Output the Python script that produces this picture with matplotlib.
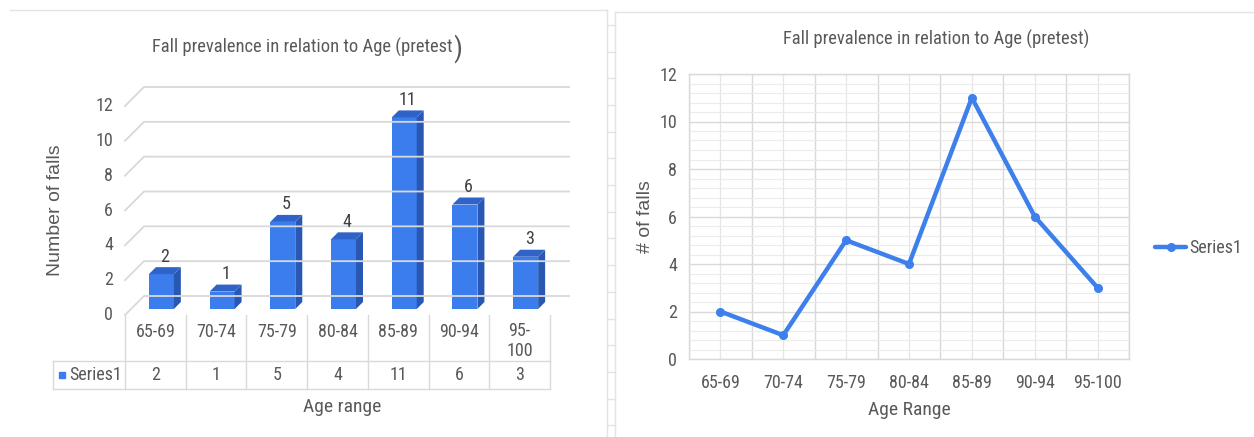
import numpy as np
import matplotlib.pyplot as plt
from matplotlib.patches import Polygon, Rectangle
from matplotlib.lines import Line2D
from matplotlib.ticker import MultipleLocator

# data
ages = ["65-69", "70-74", "75-79", "80-84", "85-89", "90-94", "95-100"]
table_ages = ["65-69", "70-74", "75-79", "80-84", "85-89", "90-94", "95-\n100"]
falls = [2, 1, 5, 4, 11, 6, 3]
series_name = "Series1"
yticks = [0, 2, 4, 6, 8, 10, 12]

W, H = 1254, 437
fig = plt.figure(figsize=(W / 100, H / 100), dpi=100)

NARROW = ["Roboto Condensed", "Liberation Sans"]
REG = ["Liberation Sans", "DejaVu Sans"]
TXT = "#595959"
GRID = "#d9d9d9"
BLUE = "#3b7ded"
SIDE = "#2858b4"
TOP = "#3063c8"


def fx(px):
    return px / W


def fy(py):
    return 1 - py / H


# panel frames and the spreadsheet strip between them
fig.add_artist(Line2D([fx(10), fx(607)], [fy(10), fy(10)], color="#e3e3e3", lw=1))
fig.add_artist(Line2D([fx(607), fx(607)], [fy(10), fy(437)], color="#e3e3e3", lw=1))
fig.add_artist(Line2D([fx(615), fx(1254)], [fy(12), fy(12)], color="#e3e3e3", lw=1))
fig.add_artist(Line2D([fx(615), fx(615)], [fy(12), fy(437)], color="#e3e3e3", lw=1))
for yy in np.arange(24.9, 437, 26.7):
    fig.add_artist(Line2D([fx(607), fx(615)], [fy(yy), fy(yy)], color="#e3e3e3", lw=1))

# ---------------- left: 3D-style column chart with data table ----------------
axL = fig.add_axes([fx(125), fy(315), (550 - 125) / W, (315 - 106) / H])
axL.set_xlim(0, 7)
axL.set_ylim(0, 12)
axL.axis("off")

ux = 425 / 7      # px per category
uy = 209 / 12     # px per unit
bdx, bdy = 19 / ux, 19 / uy   # back wall offset
fox, foy = 6 / ux, 6 / uy     # bar front offset
dpx, dpy = 7 / ux, 7 / uy     # bar depth
bw = 25 / ux

# back wall gridlines with left diagonal
for v in yticks:
    axL.plot([0, bdx, 7 + bdx], [v, v + bdy, v + bdy], color=GRID, lw=1.3,
             clip_on=False, solid_joinstyle="miter")

for i, v in enumerate(falls):
    x0 = i + 0.5 - bw / 2 + fox
    x1 = x0 + bw
    y0 = foy
    y1 = v + foy
    axL.add_patch(Rectangle((x0, y0), bw, v, facecolor=BLUE, edgecolor="none", clip_on=False))
    axL.add_patch(Polygon([(x1, y0), (x1 + dpx, y0 + dpy), (x1 + dpx, y1 + dpy), (x1, y1)],
                          closed=True, facecolor=SIDE, edgecolor="none", clip_on=False))
    axL.add_patch(Polygon([(x0, y1), (x1, y1), (x1 + dpx, y1 + dpy), (x0 + dpx, y1 + dpy)],
                          closed=True, facecolor=TOP, edgecolor="none", clip_on=False))
    axL.text(i + 0.5 + fox + dpx / 2, y1 + dpy + 5.5 / uy, str(v), ha="center", va="baseline",
             fontsize=13, family=NARROW, color="#404040")

# y tick labels on the front edge
for v in yticks:
    axL.text(-12 / ux, v, str(v), ha="right", va="center", fontsize=13, family=NARROW, color=TXT)

# data table below the floor
r1 = (315 - 361) / uy
r2 = (315 - 389) / uy
lx = (53 - 125) / ux
tcol = "#d9d9d9"
for k in range(8):
    axL.plot([k, k], [0, r2], color=tcol, lw=1, clip_on=False)
axL.plot([lx, 7], [r1, r1], color=tcol, lw=1, clip_on=False)
axL.plot([lx, 7], [r2, r2], color=tcol, lw=1, clip_on=False)
axL.plot([lx, lx], [r1, r2], color=tcol, lw=1, clip_on=False)

for i, lab in enumerate(table_ages):
    ycen = -0.976 if "\n" not in lab else -1.49
    axL.text(i + 0.5, ycen, lab, ha="center", va="center", fontsize=13, family=NARROW,
             color=TXT, linespacing=1.2)
    axL.text(i + 0.5, (r1 + r2) / 2, str(falls[i]), ha="center", va="center", fontsize=13,
             family=NARROW, color=TXT)

axL.plot([(62 - 125) / ux], [(r1 + r2) / 2], marker="s", ms=4.5, color=BLUE,
         linestyle="none", clip_on=False)
axL.text((69 - 125) / ux, (r1 + r2) / 2, series_name, ha="left", va="center", fontsize=13,
         family=NARROW, color=TXT)

tmain = fig.text(fx(152), fy(52.7), "Fall prevalence in relation to Age (pretest", ha="left",
                 va="baseline", fontsize=13.3, family=NARROW, color=TXT)
fig.text(fx(55), fy(210), "Number of falls", rotation=90, ha="center", va="center",
         fontsize=14, family=REG, color=TXT)
fig.text(fx(342), fy(407), "Age range", ha="center", va="center", fontsize=14,
         family=NARROW, color=TXT)

# ---------------- right: line chart ----------------
axR = fig.add_axes([fx(689), fy(359), (1129 - 689) / W, (359 - 74) / H])
x = np.arange(len(ages))
axR.plot(x, falls, color="#3d80ec", lw=3.2, marker="o", ms=5.5, label=series_name,
         solid_joinstyle="round", solid_capstyle="round", zorder=3)
axR.set_xlim(-0.5, 6.5)
axR.set_ylim(0, 12)
axR.set_xticks(x)
axR.set_xticklabels(ages)
axR.set_yticks(yticks)
axR.yaxis.set_minor_locator(MultipleLocator(0.4))
axR.set_xticks(np.arange(-0.5, 7, 1), minor=True)
axR.grid(which="minor", axis="y", color="#ececec", lw=0.8)
axR.grid(which="major", axis="y", color=GRID, lw=1)
axR.grid(which="minor", axis="x", color=GRID, lw=1)
axR.grid(which="major", axis="x", color="#e6e6e6", lw=0.9)
axR.set_axisbelow(True)
for s in axR.spines.values():
    s.set_color(GRID)
    s.set_linewidth(1)
axR.tick_params(which="both", length=0)
axR.tick_params(axis="x", pad=11)
axR.tick_params(axis="y", pad=8.5)
for t in axR.get_xticklabels() + axR.get_yticklabels():
    t.set_fontfamily(NARROW)
    t.set_fontsize(13)
    t.set_color(TXT)

axR.legend(loc="center left", bbox_to_anchor=(fx(1155), fy(248)), bbox_transform=fig.transFigure,
           frameon=False, handlelength=1.72, handletextpad=0.15, borderpad=0, borderaxespad=0,
           prop={"family": NARROW, "size": 13}, labelcolor=TXT)

fig.text(fx(936), fy(45), "Fall prevalence in relation to Age (pretest)", ha="center",
         va="baseline", fontsize=13.3, family=NARROW, color=TXT)
fig.text(fx(646), fy(217), "# of falls", rotation=90, ha="center", va="center",
         fontsize=14, family=REG, color=TXT)
fig.text(fx(909), fy(410), "Age Range", ha="center", va="center", fontsize=14,
         family=NARROW, color=TXT)

# oversized closing bracket right after the left title
fig.canvas.draw()
bb = tmain.get_window_extent()
fig.text(bb.x1 / W + fx(1), fy(57), ")", ha="left", va="baseline", fontsize=20,
         family=NARROW, color=TXT)

fig.savefig("out.png", dpi=100)
